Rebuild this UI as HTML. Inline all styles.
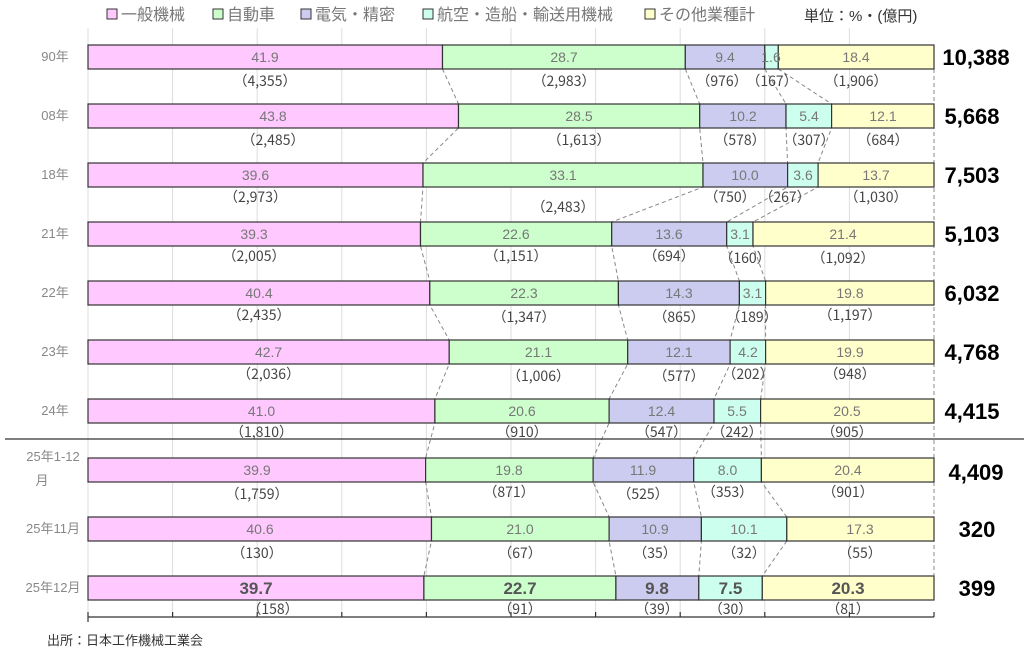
<!DOCTYPE html>
<html><head><meta charset="utf-8"><style>
body{margin:0;background:#fff}
svg{display:block;font-family:"Liberation Sans","Noto Sans CJK JP",sans-serif}
.p{fill:#ffc8ff}.g{fill:#ccffcc}.l{fill:#ccccf0}.c{fill:#ccffee}.y{fill:#ffffcc}
rect.s{stroke:#333;stroke-width:1.2}
.v{font-size:14px;fill:#777;text-anchor:middle}
.n{font-size:14px;fill:#444;text-anchor:middle;font-family:"Noto Sans CJK JP",sans-serif}
.b{font-size:17px;fill:#555;font-weight:bold;text-anchor:middle}
.t{font-size:22px;fill:#000;font-weight:bold;text-anchor:middle}
.r{font-size:13px;fill:#888;text-anchor:middle}
.d{stroke:#888;stroke-dasharray:4,3;fill:none}
</style></head><body>
<svg width="1024" height="655" viewBox="0 0 1024 655">
<g stroke="#ddd" stroke-width="1">
<line x1="88" y1="28" x2="88" y2="617"/><line x1="172.6" y1="28" x2="172.6" y2="617"/><line x1="257.2" y1="28" x2="257.2" y2="617"/><line x1="341.8" y1="28" x2="341.8" y2="617"/><line x1="426.4" y1="28" x2="426.4" y2="617"/><line x1="511" y1="28" x2="511" y2="617"/><line x1="595.6" y1="28" x2="595.6" y2="617"/><line x1="680.2" y1="28" x2="680.2" y2="617"/><line x1="764.8" y1="28" x2="764.8" y2="617"/><line x1="849.4" y1="28" x2="849.4" y2="617"/>
</g>
<g font-size="16" fill="#777">
<rect x="107" y="9" width="10" height="10" class="p" stroke="#333"/><text x="121" y="20">一般機械</text>
<rect x="213" y="9" width="10" height="10" class="g" stroke="#333"/><text x="227" y="20">自動車</text>
<rect x="301" y="9" width="10" height="10" class="l" stroke="#333"/><text x="315" y="20">電気・精密</text>
<rect x="423" y="9" width="10" height="10" class="c" stroke="#333"/><text x="437" y="20">航空・造船・輸送用機械</text>
<rect x="645" y="9" width="10" height="10" class="y" stroke="#333"/><text x="659" y="20">その他業種計</text>
</g>
<text x="804" y="21" font-size="15" fill="#333">単位：%・(億円)</text>
<g class="d">
<polyline points="442.5,69 458.5,104 458.5,128 423,163 423,187 420.5,222 420.5,246 429.8,281 429.8,305 449.2,340 449.2,364 434.9,399 434.9,423 425.6,458 425.6,482 431.5,517 431.5,541 423.9,576"/>
<polyline points="685.3,69 699.7,104 699.7,128 703,163 703,187 611.7,222 611.7,246 618.4,281 618.4,305 627.7,340 627.7,364 609.1,399 609.1,423 593.1,458 593.1,482 609.1,517 609.1,541 615.9,576"/>
<polyline points="764.8,69 786,104 786,128 787.6,163 787.6,187 726.7,222 726.7,246 739.4,281 739.4,305 730.1,340 730.1,364 714,399 714,423 693.7,458 693.7,482 701.4,517 701.4,541 698.8,576"/>
<polyline points="778.3,69 831.6,104 831.6,128 818.1,163 818.1,187 753,222 753,246 765.6,281 765.6,305 765.6,340 765.6,364 760.6,399 760.6,423 761.4,458 761.4,482 786.8,517 786.8,541 762.3,576"/>
<line x1="934" y1="69" x2="934" y2="576"/>
</g>
<line x1="5" y1="439" x2="1024" y2="439" stroke="#333" stroke-width="1.3"/>
<g stroke="#333" stroke-width="1.2">
<line x1="88" y1="617" x2="934" y2="617"/>
<line x1="88" y1="612" x2="88" y2="622"/><line x1="172.6" y1="612" x2="172.6" y2="617"/><line x1="257.2" y1="612" x2="257.2" y2="617"/><line x1="341.8" y1="612" x2="341.8" y2="617"/><line x1="426.4" y1="612" x2="426.4" y2="617"/><line x1="511" y1="612" x2="511" y2="617"/><line x1="595.6" y1="612" x2="595.6" y2="617"/><line x1="680.2" y1="612" x2="680.2" y2="617"/><line x1="764.8" y1="612" x2="764.8" y2="617"/><line x1="849.4" y1="612" x2="849.4" y2="617"/><line x1="934" y1="612" x2="934" y2="617"/>
</g>

<g transform="translate(0,45)">
<rect class="s p" x="88" y="0" width="354.5" height="24"/><rect class="s g" x="442.5" y="0" width="242.8" height="24"/><rect class="s l" x="685.3" y="0" width="79.5" height="24"/><rect class="s c" x="764.8" y="0" width="13.5" height="24"/><rect class="s y" x="778.3" y="0" width="155.7" height="24"/>
<text class="v" x="265" y="17">41.9</text><text class="v" x="564" y="17">28.7</text><text class="v" x="725" y="17">9.4</text><text class="v" x="771" y="17">1.6</text><text class="v" x="856" y="17">18.4</text>
<text class="n" x="265" y="41">（4,355）</text><text class="n" x="564" y="41">（2,983）</text><text class="n" x="722" y="41">（976）</text><text class="n" x="772" y="41">（167）</text><text class="n" x="856" y="41">（1,906）</text>
<text class="r" x="55" y="16">90年</text><text class="t" x="976" y="20">10,388</text>
</g>
<g transform="translate(0,104)">
<rect class="s p" x="88" y="0" width="370.5" height="24"/><rect class="s g" x="458.5" y="0" width="241.2" height="24"/><rect class="s l" x="699.7" y="0" width="86.3" height="24"/><rect class="s c" x="786" y="0" width="45.6" height="24"/><rect class="s y" x="831.6" y="0" width="102.4" height="24"/>
<text class="v" x="273" y="17">43.8</text><text class="v" x="579" y="17">28.5</text><text class="v" x="743" y="17">10.2</text><text class="v" x="809" y="17">5.4</text><text class="v" x="883" y="17">12.1</text>
<text class="n" x="273" y="41">（2,485）</text><text class="n" x="579" y="41">（1,613）</text><text class="n" x="740" y="41">（578）</text><text class="n" x="809" y="41">（307）</text><text class="n" x="883" y="41">（684）</text>
<text class="r" x="55" y="16">08年</text><text class="t" x="972" y="20">5,668</text>
</g>
<g transform="translate(0,163)">
<rect class="s p" x="88" y="0" width="335" height="24"/><rect class="s g" x="423" y="0" width="280" height="24"/><rect class="s l" x="703" y="0" width="84.6" height="24"/><rect class="s c" x="787.6" y="0" width="30.5" height="24"/><rect class="s y" x="818.1" y="0" width="115.9" height="24"/>
<text class="v" x="255.5" y="17">39.6</text><text class="v" x="563" y="17">33.1</text><text class="v" x="745" y="17">10.0</text><text class="v" x="803" y="17">3.6</text><text class="v" x="876" y="17">13.7</text>
<text class="n" x="255.5" y="39">（2,973）</text><text class="n" x="563" y="49">（2,483）</text><text class="n" x="730" y="39">（750）</text><text class="n" x="785" y="39">（267）</text><text class="n" x="876" y="39">（1,030）</text>
<text class="r" x="55" y="16">18年</text><text class="t" x="972" y="20">7,503</text>
</g>
<g transform="translate(0,222)">
<rect class="s p" x="88" y="0" width="332.5" height="24"/><rect class="s g" x="420.5" y="0" width="191.2" height="24"/><rect class="s l" x="611.7" y="0" width="115" height="24"/><rect class="s c" x="726.7" y="0" width="26.3" height="24"/><rect class="s y" x="753" y="0" width="181" height="24"/>
<text class="v" x="254" y="17">39.3</text><text class="v" x="516" y="17">22.6</text><text class="v" x="669" y="17">13.6</text><text class="v" x="740" y="17">3.1</text><text class="v" x="843" y="17">21.4</text>
<text class="n" x="254" y="39">（2,005）</text><text class="n" x="516" y="39">（1,151）</text><text class="n" x="669" y="39">（694）</text><text class="n" x="745" y="41">（160）</text><text class="n" x="843" y="41">（1,092）</text>
<text class="r" x="55" y="16">21年</text><text class="t" x="972" y="20">5,103</text>
</g>
<g transform="translate(0,281)">
<rect class="s p" x="88" y="0" width="341.8" height="24"/><rect class="s g" x="429.8" y="0" width="188.6" height="24"/><rect class="s l" x="618.4" y="0" width="121" height="24"/><rect class="s c" x="739.4" y="0" width="26.2" height="24"/><rect class="s y" x="765.6" y="0" width="168.4" height="24"/>
<text class="v" x="259" y="17">40.4</text><text class="v" x="524" y="17">22.3</text><text class="v" x="679" y="17">14.3</text><text class="v" x="752.5" y="17">3.1</text><text class="v" x="850" y="17">19.8</text>
<text class="n" x="259" y="39">（2,435）</text><text class="n" x="524" y="41">（1,347）</text><text class="n" x="679" y="41">（865）</text><text class="n" x="752" y="41">（189）</text><text class="n" x="850" y="39">（1,197）</text>
<text class="r" x="55" y="16">22年</text><text class="t" x="972" y="20">6,032</text>
</g>
<g transform="translate(0,340)">
<rect class="s p" x="88" y="0" width="361.2" height="24"/><rect class="s g" x="449.2" y="0" width="178.5" height="24"/><rect class="s l" x="627.7" y="0" width="102.4" height="24"/><rect class="s c" x="730.1" y="0" width="35.5" height="24"/><rect class="s y" x="765.6" y="0" width="168.4" height="24"/>
<text class="v" x="268.6" y="17">42.7</text><text class="v" x="538.5" y="17">21.1</text><text class="v" x="679" y="17">12.1</text><text class="v" x="748" y="17">4.2</text><text class="v" x="850" y="17">19.9</text>
<text class="n" x="268.6" y="39">（2,036）</text><text class="n" x="538.5" y="41">（1,006）</text><text class="n" x="679" y="41">（577）</text><text class="n" x="748" y="39">（202）</text><text class="n" x="850" y="39">（948）</text>
<text class="r" x="55" y="16">23年</text><text class="t" x="972" y="20">4,768</text>
</g>
<g transform="translate(0,399)">
<rect class="s p" x="88" y="0" width="346.9" height="24"/><rect class="s g" x="434.9" y="0" width="174.2" height="24"/><rect class="s l" x="609.1" y="0" width="104.9" height="24"/><rect class="s c" x="714" y="0" width="46.6" height="24"/><rect class="s y" x="760.6" y="0" width="173.4" height="24"/>
<text class="v" x="261.5" y="17">41.0</text><text class="v" x="522" y="17">20.6</text><text class="v" x="661.5" y="17">12.4</text><text class="v" x="737" y="17">5.5</text><text class="v" x="847" y="17">20.5</text>
<text class="n" x="261.5" y="38">（1,810）</text><text class="n" x="522" y="38">（910）</text><text class="n" x="661.5" y="38">（547）</text><text class="n" x="737" y="38">（242）</text><text class="n" x="847" y="38">（905）</text>
<text class="r" x="55" y="16">24年</text><text class="t" x="972" y="20">4,415</text>
</g>
<g transform="translate(0,458)">
<rect class="s p" x="88" y="0" width="337.6" height="24"/><rect class="s g" x="425.6" y="0" width="167.5" height="24"/><rect class="s l" x="593.1" y="0" width="100.6" height="24"/><rect class="s c" x="693.7" y="0" width="67.7" height="24"/><rect class="s y" x="761.4" y="0" width="172.6" height="24"/>
<text class="v" x="257" y="17">39.9</text><text class="v" x="509" y="17">19.8</text><text class="v" x="643" y="17">11.9</text><text class="v" x="727.5" y="17">8.0</text><text class="v" x="848" y="17">20.4</text>
<text class="n" x="257" y="41">（1,759）</text><text class="n" x="509" y="39">（871）</text><text class="n" x="643" y="41">（525）</text><text class="n" x="727.5" y="39">（353）</text><text class="n" x="848" y="39">（901）</text>
<text class="r" x="53" y="3">25年1-12</text><text class="r" x="42" y="27">月</text><text class="t" x="976" y="22">4,409</text>
</g>
<g transform="translate(0,517)">
<rect class="s p" x="88" y="0" width="343.5" height="24"/><rect class="s g" x="431.5" y="0" width="177.6" height="24"/><rect class="s l" x="609.1" y="0" width="92.3" height="24"/><rect class="s c" x="701.4" y="0" width="85.4" height="24"/><rect class="s y" x="786.8" y="0" width="147.2" height="24"/>
<text class="v" x="260" y="17">40.6</text><text class="v" x="520" y="17">21.0</text><text class="v" x="655" y="17">10.9</text><text class="v" x="744" y="17">10.1</text><text class="v" x="860" y="17">17.3</text>
<text class="n" x="257" y="41">（130）</text><text class="n" x="520" y="41">（67）</text><text class="n" x="655" y="41">（35）</text><text class="n" x="744" y="41">（32）</text><text class="n" x="860" y="41">（55）</text>
<text class="r" x="53" y="16">25年11月</text><text class="t" x="977" y="20">320</text>
</g>
<g transform="translate(0,576)">
<rect class="s p" x="88" y="0" width="335.9" height="24"/><rect class="s g" x="423.9" y="0" width="192" height="24"/><rect class="s l" x="615.9" y="0" width="82.9" height="24"/><rect class="s c" x="698.8" y="0" width="63.5" height="24"/><rect class="s y" x="762.3" y="0" width="171.7" height="24"/>
<text class="b" x="256" y="18">39.7</text><text class="b" x="520" y="18">22.7</text><text class="b" x="657" y="18">9.8</text><text class="b" x="730.5" y="18">7.5</text><text class="b" x="848" y="18">20.3</text>
<text class="n" x="273" y="38">（158）</text><text class="n" x="520" y="38">（91）</text><text class="n" x="657" y="38">（39）</text><text class="n" x="730.5" y="38">（30）</text><text class="n" x="848" y="38">（81）</text>
<text class="r" x="53" y="16">25年12月</text><text class="t" x="977" y="20">399</text>
</g>
<text x="47" y="645" font-size="13" fill="#333">出所：日本工作機械工業会</text>
</svg>
</body></html>
